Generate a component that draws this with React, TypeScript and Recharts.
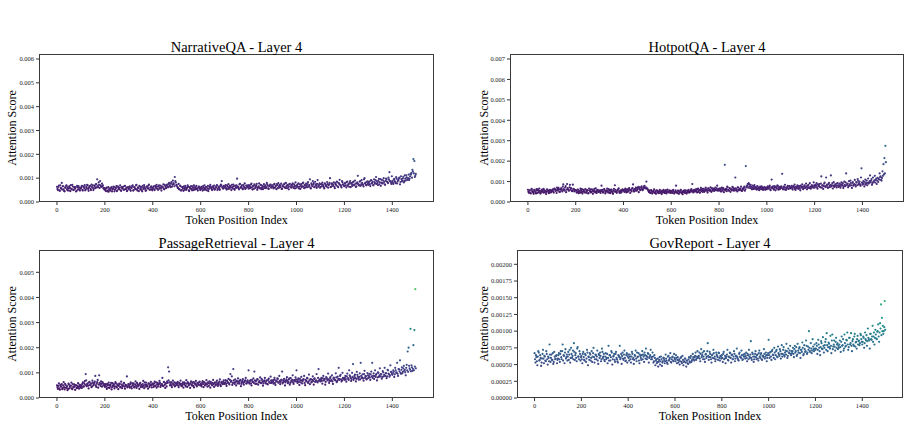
import { Scatter, ScatterChart, XAxis, YAxis } from 'recharts';

// attention scores in units of 1e-5, read every 4 tokens (0, 4, ..., 1496)
// each row below covers 100 tokens
const narrativeQA = [
  64, 50, 69, 47, 58, 80, 66, 53, 45, 61, 70, 49, 57, 67, 46, 55, 72, 51, 62, 56, 44, 68, 52, 60, 48,
  57, 68, 48, 63, 71, 52, 59, 70, 47, 65, 55, 73, 60, 50, 69, 58, 75, 95, 62, 72, 88, 66, 77, 70, 56,
  58, 46, 60, 48, 43, 57, 50, 62, 52, 65, 45, 59, 67, 49, 61, 54, 70, 47, 58, 64, 51, 68, 55, 46, 63,
  55, 66, 47, 60, 70, 50, 62, 54, 72, 48, 58, 68, 52, 63, 45, 60, 71, 56, 49, 66, 58, 73, 51, 61, 53,
  57, 66, 50, 63, 72, 54, 65, 56, 69, 48, 61, 74, 53, 67, 58, 73, 62, 80, 70, 78, 64, 90, 75, 105, 82,
  72, 60, 76, 53, 66, 50, 62, 47, 58, 68, 51, 61, 64, 46, 56, 67, 49, 59, 70, 52, 63, 55, 48, 65, 57,
  54, 64, 48, 60, 70, 52, 63, 57, 46, 66, 72, 58, 50, 62, 69, 53, 60, 71, 55, 65, 51, 73, 88, 59, 68,
  60, 71, 52, 64, 75, 56, 67, 50, 63, 73, 55, 69, 59, 98, 65, 53, 76, 61, 70, 54, 66, 78, 58, 68, 62,
  56, 70, 62, 77, 52, 66, 74, 59, 68, 51, 63, 78, 57, 71, 61, 54, 75, 65, 58, 80, 69, 55, 67, 73, 62,
  70, 57, 76, 63, 54, 71, 79, 60, 68, 77, 56, 66, 74, 61, 80, 58, 69, 53, 76, 64, 72, 78, 59, 67, 82,
  60, 73, 78, 64, 55, 75, 66, 81, 58, 70, 77, 62, 83, 67, 95, 57, 72, 88, 79, 65, 74, 59, 92, 69, 78,
  62, 75, 81, 67, 57, 76, 70, 84, 60, 73, 100, 64, 78, 68, 82, 58, 74, 86, 66, 79, 93, 71, 61, 83, 72,
  66, 80, 61, 86, 73, 64, 88, 77, 67, 83, 70, 90, 63, 78, 110, 72, 85, 68, 92, 75, 65, 100, 81, 70, 87,
  72, 86, 67, 92, 80, 70, 95, 78, 105, 88, 71, 97, 82, 68, 93, 79, 100, 74, 89, 96, 83, 102, 125, 87, 76,
  88, 76, 97, 84, 104, 78, 92, 100, 74, 108, 87, 99, 82, 112, 90, 103, 94, 115, 98, 118, 122, 135, 180, 172, 110,
];
// readings in between, at tokens 2, 6, ..., 1498
const narrativeQAMid = [
  55, 63, 49, 70, 57, 52, 66, 46, 60, 68, 54, 62, 48, 59, 71, 53, 65, 50, 58, 63, 47, 61, 67, 52, 59,
  62, 51, 66, 58, 49, 64, 72, 55, 61, 68, 50, 63, 70, 57, 66, 74, 61, 68, 82, 59, 70, 63, 65, 58, 52,
  50, 57, 45, 62, 53, 48, 59, 44, 56, 63, 51, 58, 46, 66, 55, 60, 49, 63, 57, 52, 67, 54, 60, 48, 58,
  62, 51, 59, 67, 48, 63, 56, 70, 53, 61, 46, 65, 58, 50, 68, 55, 62, 47, 64, 57, 69, 52, 60, 66, 49,
  61, 53, 68, 58, 64, 51, 70, 60, 57, 66, 63, 55, 72, 60, 69, 65, 76, 68, 62, 84, 72, 79, 66, 88, 70,
  65, 58, 53, 69, 48, 63, 56, 66, 51, 60, 57, 70, 49, 62, 58, 54, 66, 50, 61, 57, 68, 53, 60, 64, 50,
  61, 56, 67, 51, 58, 63, 49, 68, 55, 60, 64, 53, 66, 57, 52, 61, 68, 50, 63, 58, 67, 70, 62, 56, 65,
  66, 58, 70, 55, 62, 68, 60, 72, 57, 66, 51, 64, 70, 62, 58, 74, 60, 65, 57, 72, 61, 55, 69, 63, 71,
  64, 58, 73, 60, 67, 55, 70, 62, 76, 58, 66, 60, 72, 54, 68, 64, 59, 70, 62, 74, 57, 66, 72, 60, 68,
  62, 73, 60, 68, 75, 58, 66, 72, 63, 55, 70, 64, 77, 59, 67, 72, 62, 75, 66, 60, 70, 63, 74, 57, 68,
  70, 64, 57, 74, 68, 62, 79, 65, 72, 61, 69, 75, 64, 71, 60, 78, 66, 73, 62, 85, 68, 76, 64, 71, 60,
  74, 66, 72, 61, 78, 68, 64, 75, 71, 80, 62, 76, 69, 73, 64, 79, 70, 84, 62, 77, 72, 67, 88, 74, 68,
  78, 70, 84, 68, 76, 81, 62, 79, 73, 86, 71, 77, 66, 82, 75, 69, 88, 74, 80, 71, 95, 78, 72, 84, 76,
  82, 75, 90, 78, 86, 72, 83, 92, 76, 80, 88, 74, 96, 81, 78, 90, 84, 72, 98, 86, 79, 94, 88, 82, 108,
  82, 94, 88, 79, 98, 86, 92, 102, 84, 96, 90, 106, 88, 98, 112, 94, 100, 92, 108, 115, 102, 128, 120, 105, 118,
];

const hotpotQA = [
  60, 45, 55, 42, 64, 50, 40, 58, 48, 63, 44, 56, 66, 41, 53, 61, 46, 57, 49, 39, 62, 54, 43, 59, 47,
  55, 62, 46, 66, 54, 44, 63, 69, 49, 60, 67, 52, 86, 58, 71, 48, 88, 62, 55, 84, 68, 53, 85, 64, 57,
  58, 46, 61, 43, 53, 65, 48, 41, 59, 50, 63, 45, 56, 42, 66, 52, 47, 62, 40, 57, 51, 67, 44, 60, 49,
  56, 44, 80, 60, 48, 63, 42, 54, 66, 46, 58, 43, 61, 50, 40, 64, 82, 52, 45, 59, 67, 44, 57, 49, 62,
  58, 49, 65, 47, 62, 53, 68, 44, 57, 66, 86, 51, 63, 71, 55, 69, 48, 72, 61, 76, 58, 70, 79, 67, 100,
  66, 55, 48, 44, 58, 41, 50, 62, 46, 40, 56, 48, 43, 60, 52, 39, 47, 59, 45, 53, 42, 61, 49, 57, 44,
  54, 44, 59, 41, 49, 80, 46, 56, 40, 48, 60, 43, 38, 53, 45, 57, 41, 50, 59, 46, 55, 63, 88, 47, 60,
  52, 63, 47, 66, 56, 45, 69, 58, 49, 64, 53, 70, 59, 46, 67, 55, 72, 50, 62, 65, 54, 71, 58, 80, 61,
  55, 67, 51, 70, 60, 48, 182, 63, 53, 72, 57, 68, 50, 62, 74, 56, 66, 120, 59, 52, 71, 58, 64, 75, 54,
  60, 71, 55, 176, 78, 88, 92, 76, 84, 66, 80, 64, 83, 70, 61, 78, 67, 58, 75, 63, 72, 59, 71, 62, 69,
  63, 76, 67, 80, 58, 110, 72, 64, 78, 57, 71, 82, 60, 74, 66, 77, 138, 62, 73, 84, 59, 70, 79, 65, 75,
  66, 79, 61, 76, 85, 59, 72, 81, 64, 78, 57, 73, 86, 63, 77, 69, 90, 62, 80, 70, 92, 65, 83, 74, 96,
  70, 84, 92, 65, 79, 88, 72, 125, 81, 64, 90, 76, 120, 85, 69, 94, 73, 130, 82, 66, 97, 78, 87, 71, 93,
  74, 90, 70, 96, 83, 68, 100, 78, 140, 88, 72, 102, 80, 93, 69, 98, 85, 108, 76, 95, 112, 86, 100, 79, 165,
  85, 102, 76, 110, 92, 82, 115, 95, 130, 104, 84, 120, 98, 128, 108, 88, 118, 112, 140, 125, 105, 150, 185, 215, 275,
];
const hotpotQAMid = [
  50, 57, 44, 61, 53, 47, 59, 51, 42, 56, 62, 48, 54, 45, 58, 52, 64, 47, 55, 50, 60, 46, 53, 58, 49,
  58, 52, 64, 60, 57, 70, 55, 62, 50, 66, 59, 75, 63, 56, 78, 61, 68, 57, 72, 60, 66, 54, 62, 52, 58,
  55, 49, 60, 52, 45, 57, 63, 50, 54, 47, 61, 53, 58, 44, 56, 62, 49, 55, 51, 64, 47, 53, 58, 50, 56,
  50, 58, 53, 46, 61, 55, 49, 57, 52, 63, 47, 54, 59, 45, 56, 51, 60, 48, 55, 62, 50, 53, 46, 58, 55,
  55, 61, 53, 59, 50, 64, 57, 60, 52, 68, 58, 63, 55, 66, 60, 74, 64, 58, 70, 66, 62, 75, 68, 72, 65,
  60, 50, 57, 46, 53, 49, 55, 44, 52, 57, 47, 51, 54, 45, 50, 56, 48, 53, 44, 58, 49, 52, 47, 55, 50,
  48, 55, 51, 45, 57, 50, 43, 54, 49, 56, 46, 52, 48, 57, 50, 44, 55, 47, 53, 49, 58, 51, 56, 54, 52,
  57, 54, 62, 50, 60, 58, 53, 64, 55, 50, 59, 62, 54, 65, 57, 61, 53, 68, 56, 58, 63, 60, 67, 55, 64,
  62, 58, 65, 55, 68, 61, 57, 64, 75, 60, 55, 66, 62, 58, 70, 63, 56, 67, 61, 72, 58, 65, 60, 55, 66,
  66, 75, 62, 72, 80, 70, 86, 68, 74, 62, 70, 76, 65, 73, 68, 62, 72, 66, 70, 76, 64, 68, 73, 60, 71,
  70, 66, 74, 62, 72, 68, 76, 60, 70, 74, 65, 78, 68, 63, 72, 70, 66, 75, 62, 71, 68, 74, 64, 78, 70,
  71, 68, 76, 70, 64, 74, 68, 78, 72, 66, 80, 70, 74, 67, 82, 72, 76, 70, 84, 68, 75, 72, 78, 70, 82,
  76, 80, 72, 86, 78, 74, 90, 70, 82, 78, 95, 74, 80, 72, 88, 78, 84, 76, 92, 80, 74, 86, 78, 90, 80,
  82, 78, 86, 80, 92, 76, 84, 96, 82, 90, 78, 86, 105, 82, 94, 80, 88, 84, 98, 82, 104, 92, 86, 120, 95,
  92, 88, 98, 86, 105, 94, 90, 102, 96, 112, 92, 100, 106, 95, 115, 104, 98, 110, 122, 108, 118, 128, 135, 140, 195,
];

const passageRetrieval = [
  50, 36, 58, 33, 46, 55, 39, 63, 34, 52, 42, 31, 57, 38, 48, 61, 35, 45, 54, 32, 50, 40, 59, 37, 47,
  51, 40, 62, 45, 67, 95, 47, 58, 38, 64, 54, 43, 69, 50, 60, 88, 44, 63, 41, 90, 56, 66, 45, 59, 52,
  44, 55, 36, 51, 61, 40, 52, 34, 59, 47, 38, 63, 45, 54, 35, 57, 42, 65, 39, 50, 60, 37, 48, 86, 46,
  54, 41, 62, 38, 50, 58, 44, 66, 40, 55, 48, 36, 60, 51, 43, 68, 39, 53, 61, 46, 37, 57, 49, 64, 42,
  57, 44, 65, 49, 41, 60, 53, 68, 44, 55, 80, 47, 62, 40, 58, 66, 122, 105, 50, 63, 43, 69, 54, 46, 60,
  52, 64, 43, 58, 69, 47, 56, 41, 62, 50, 71, 44, 59, 54, 40, 66, 49, 63, 42, 57, 68, 46, 60, 52, 65,
  56, 46, 67, 43, 61, 52, 71, 45, 59, 66, 41, 58, 50, 72, 44, 62, 53, 69, 48, 60, 74, 47, 64, 55, 70,
  58, 71, 48, 64, 76, 54, 95, 68, 52, 115, 61, 74, 50, 66, 78, 57, 69, 47, 63, 75, 53, 68, 80, 58, 70,
  110, 57, 71, 50, 65, 78, 105, 56, 69, 75, 53, 64, 82, 59, 72, 49, 67, 80, 58, 70, 54, 77, 62, 85, 60,
  70, 57, 80, 52, 67, 78, 61, 88, 55, 72, 105, 63, 76, 50, 68, 83, 59, 74, 53, 79, 65, 90, 56, 71, 82,
  110, 60, 78, 52, 70, 84, 58, 74, 88, 51, 68, 80, 60, 93, 55, 75, 64, 86, 53, 78, 67, 95, 62, 115, 72,
  66, 80, 57, 88, 71, 53, 83, 74, 97, 60, 79, 68, 90, 56, 81, 72, 98, 63, 85, 120, 75, 92, 66, 100, 78,
  72, 88, 65, 97, 78, 110, 86, 68, 100, 135, 79, 93, 66, 104, 85, 73, 98, 140, 80, 94, 69, 108, 88, 74, 99,
  80, 96, 72, 105, 140, 88, 76, 110, 92, 70, 102, 84, 118, 95, 77, 107, 86, 120, 99, 79, 112, 97, 85, 130, 104,
  92, 110, 84, 120, 100, 140, 88, 114, 150, 96, 122, 104, 128, 112, 90, 132, 185, 200, 118, 275, 130, 108, 210, 270, 433,
];
const passageRetrievalMid = [
  42, 48, 38, 52, 45, 35, 50, 43, 56, 40, 47, 36, 53, 44, 49, 38, 55, 42, 46, 51, 39, 48, 44, 53, 41,
  48, 56, 46, 58, 52, 70, 55, 49, 62, 51, 58, 46, 60, 54, 65, 50, 57, 72, 53, 60, 48, 56, 63, 50, 55,
  50, 45, 56, 41, 52, 48, 60, 43, 50, 55, 46, 58, 42, 51, 48, 56, 44, 53, 47, 58, 45, 52, 50, 42, 55,
  47, 55, 45, 58, 50, 42, 54, 48, 60, 46, 52, 57, 44, 50, 55, 48, 62, 45, 52, 49, 58, 43, 54, 51, 56,
  52, 58, 48, 62, 54, 46, 56, 60, 50, 55, 49, 64, 52, 58, 46, 60, 70, 62, 55, 50, 58, 53, 62, 48, 56,
  58, 50, 60, 52, 56, 48, 62, 54, 58, 46, 57, 63, 50, 55, 60, 52, 58, 48, 62, 55, 51, 59, 54, 63, 50,
  52, 60, 55, 63, 50, 58, 54, 62, 48, 57, 64, 53, 60, 55, 59, 50, 62, 57, 54, 65, 52, 60, 58, 63, 56,
  62, 56, 68, 60, 58, 72, 64, 86, 60, 70, 56, 64, 68, 58, 66, 62, 72, 56, 68, 60, 64, 70, 58, 66, 62,
  62, 68, 58, 72, 64, 60, 70, 66, 56, 74, 62, 68, 60, 76, 64, 58, 70, 62, 68, 56, 72, 64, 60, 70, 66,
  64, 72, 60, 70, 66, 76, 62, 68, 64, 72, 58, 70, 66, 62, 74, 68, 64, 78, 60, 68, 72, 62, 70, 66, 74,
  66, 72, 64, 76, 62, 70, 68, 74, 60, 72, 66, 78, 64, 70, 74, 62, 72, 68, 76, 64, 70, 66, 80, 68, 74,
  74, 68, 78, 70, 76, 64, 80, 70, 74, 68, 84, 72, 66, 78, 74, 70, 82, 68, 76, 72, 88, 74, 70, 80, 76,
  80, 74, 86, 78, 72, 90, 80, 76, 84, 72, 88, 80, 76, 92, 78, 84, 74, 88, 82, 78, 95, 80, 86, 76, 90,
  88, 82, 94, 86, 80, 98, 88, 84, 96, 82, 100, 90, 86, 94, 84, 102, 92, 88, 98, 86, 110, 94, 90, 104, 96,
  98, 104, 94, 110, 102, 96, 115, 106, 100, 112, 98, 118, 108, 102, 120, 110, 104, 128, 112, 106, 122, 116, 110, 125, 118,
];

const govReport = [
  67, 53, 61, 49, 70, 56, 64, 48, 59, 72, 52, 62, 55, 66, 50, 60, 80, 54, 65, 57, 51, 69, 58, 63, 52,
  59, 67, 54, 70, 58, 80, 64, 52, 73, 61, 56, 69, 65, 53, 75, 60, 71, 82, 57, 67, 55, 76, 62, 70, 56,
  63, 52, 69, 57, 66, 54, 72, 49, 61, 67, 56, 70, 62, 75, 53, 65, 58, 71, 51, 64, 68, 55, 74, 60, 66,
  55, 67, 60, 52, 78, 64, 56, 70, 50, 62, 66, 54, 69, 58, 53, 63, 78, 60, 51, 68, 57, 71, 55, 64, 53,
  65, 56, 62, 53, 69, 58, 51, 64, 71, 55, 61, 67, 52, 63, 57, 70, 65, 54, 64, 74, 58, 67, 53, 62, 72,
  61, 68, 53, 64, 49, 58, 54, 47, 57, 50, 62, 48, 55, 60, 52, 65, 56, 51, 63, 58, 67, 53, 61, 56, 66,
  58, 64, 52, 61, 56, 50, 60, 54, 63, 49, 55, 59, 47, 56, 51, 61, 53, 63, 56, 66, 58, 61, 68, 59, 70,
  61, 68, 55, 73, 64, 58, 70, 54, 66, 62, 82, 57, 69, 61, 53, 65, 72, 59, 55, 68, 63, 57, 67, 56, 62,
  64, 54, 69, 59, 52, 62, 72, 56, 61, 67, 53, 65, 58, 70, 55, 63, 74, 59, 56, 68, 61, 71, 57, 65, 62,
  59, 68, 55, 64, 72, 60, 85, 57, 66, 54, 62, 70, 58, 65, 56, 71, 60, 67, 57, 63, 73, 59, 68, 55, 64,
  87, 60, 69, 57, 72, 64, 75, 58, 70, 62, 77, 65, 73, 59, 79, 66, 76, 62, 71, 81, 60, 74, 67, 78, 64,
  67, 75, 61, 78, 70, 63, 81, 68, 76, 60, 72, 83, 64, 79, 69, 86, 66, 77, 100, 70, 82, 67, 88, 73, 80,
  72, 82, 66, 87, 75, 64, 85, 74, 91, 68, 79, 88, 97, 70, 83, 76, 93, 67, 95, 77, 86, 71, 90, 80, 73,
  75, 86, 69, 92, 79, 71, 95, 77, 87, 98, 72, 90, 80, 97, 70, 88, 78, 96, 83, 74, 93, 85, 79, 96, 88,
  80, 92, 75, 98, 86, 78, 104, 88, 74, 96, 87, 108, 92, 80, 102, 89, 99, 110, 84, 112, 140, 120, 108, 100, 145,
];
const govReportMid = [
  58, 64, 55, 62, 68, 57, 60, 53, 66, 59, 63, 56, 70, 58, 62, 55, 65, 60, 57, 67, 54, 62, 59, 64, 57,
  64, 58, 66, 61, 70, 56, 63, 68, 59, 65, 62, 57, 72, 60, 66, 63, 58, 69, 64, 60, 74, 62, 58, 66, 61,
  58, 66, 61, 56, 64, 59, 68, 62, 57, 65, 60, 54, 67, 61, 58, 64, 62, 56, 66, 60, 63, 58, 69, 62, 57,
  62, 58, 66, 60, 56, 64, 61, 68, 58, 63, 57, 66, 60, 55, 64, 61, 58, 66, 63, 59, 65, 60, 56, 67, 62,
  60, 65, 58, 62, 66, 60, 57, 63, 59, 68, 62, 56, 65, 60, 64, 58, 62, 68, 59, 63, 61, 66, 60, 64, 58,
  58, 62, 55, 60, 56, 52, 59, 54, 61, 55, 58, 53, 60, 57, 55, 59, 53, 62, 56, 60, 54, 58, 62, 55, 60,
  55, 60, 57, 53, 58, 55, 61, 52, 57, 54, 59, 53, 56, 52, 58, 55, 60, 54, 58, 61, 56, 63, 57, 62, 60,
  63, 59, 66, 61, 68, 62, 58, 65, 60, 70, 63, 61, 66, 58, 64, 60, 67, 62, 58, 65, 61, 68, 60, 63, 59,
  60, 66, 58, 63, 60, 65, 57, 62, 68, 60, 64, 58, 62, 66, 59, 63, 61, 57, 66, 62, 60, 64, 58, 62, 66,
  63, 60, 66, 58, 62, 65, 60, 68, 62, 58, 66, 61, 64, 59, 67, 62, 65, 58, 63, 61, 66, 62, 64, 60, 67,
  64, 68, 62, 70, 65, 60, 68, 64, 72, 61, 67, 63, 70, 66, 62, 72, 64, 68, 65, 70, 63, 68, 71, 66, 70,
  70, 66, 73, 68, 76, 65, 71, 74, 67, 72, 69, 75, 66, 73, 70, 78, 68, 72, 75, 69, 74, 71, 77, 70, 74,
  74, 78, 72, 80, 70, 76, 82, 73, 78, 75, 84, 72, 79, 76, 81, 74, 78, 86, 73, 80, 77, 84, 75, 82, 78,
  80, 76, 84, 78, 88, 74, 82, 78, 86, 80, 76, 90, 82, 78, 85, 80, 92, 77, 84, 88, 80, 86, 82, 94, 84,
  84, 90, 82, 88, 94, 85, 90, 86, 96, 88, 92, 84, 98, 90, 95, 88, 100, 92, 98, 104, 94, 100, 96, 106, 102,
];

const TOKEN_STEP = 4;
const MID_OFFSET = 2;
const SCALE = 1e-5;
const xTicks = [0, 200, 400, 600, 800, 1000, 1200, 1400];

const VIRIDIS = ['#440154', '#482475', '#414487', '#355f8d', '#2a788e', '#21918c', '#22a884', '#44bf70', '#7ad151', '#bddf26', '#fde725'];

function hex(c: string) {
  return [1, 3, 5].map((i) => parseInt(c.slice(i, i + 2), 16));
}

function viridis(t: number) {
  const v = Math.max(0, Math.min(1, t)) * (VIRIDIS.length - 1);
  const i = Math.min(Math.floor(v), VIRIDIS.length - 2);
  const f = v - i;
  const a = hex(VIRIDIS[i]);
  const b = hex(VIRIDIS[i + 1]);
  const m = a.map((x, k) => Math.round(x + (b[k] - x) * f));
  return `rgb(${m[0]},${m[1]},${m[2]})`;
}

const panels = [
  {
    title: 'NarrativeQA - Layer 4', values: narrativeQA, mid: narrativeQAMid, yMax: 0.00621, digits: 3, labelX: 12,
    yTicks: [0, 0.001, 0.002, 0.003, 0.004, 0.005, 0.006],
    box: { left: 39, top: 54, right: 434, bottom: 202 },
  },
  {
    title: 'HotpotQA - Layer 4', values: hotpotQA, mid: hotpotQAMid, yMax: 0.007245, digits: 3, labelX: 484,
    yTicks: [0, 0.001, 0.002, 0.003, 0.004, 0.005, 0.006, 0.007],
    box: { left: 510, top: 54, right: 904, bottom: 202 },
  },
  {
    title: 'PassageRetrieval - Layer 4', values: passageRetrieval, mid: passageRetrievalMid, yMax: 0.005887, digits: 3, labelX: 12,
    yTicks: [0, 0.001, 0.002, 0.003, 0.004, 0.005],
    box: { left: 39, top: 250, right: 434, bottom: 398 },
  },
  {
    title: 'GovReport - Layer 4', values: govReport, mid: govReportMid, yMax: 0.002214, digits: 5, labelX: 484,
    yTicks: [0, 0.00025, 0.0005, 0.00075, 0.001, 0.00125, 0.0015, 0.00175, 0.002],
    box: { left: 517, top: 250, right: 903, bottom: 398 },
  },
];

const SERIF = '"Liberation Serif", "Times New Roman", serif';
const YW = 40;
const XH = 20;
const MT = 4;
const MR = 4;

const Dot = (p: any) => <circle cx={p.cx} cy={p.cy} r={1.1} fill={p.payload.c} />;

function Panel({ title, values, mid, yMax, digits, yTicks, box, labelX }: any) {
  const pw = box.right - box.left;
  const ph = box.bottom - box.top;
  const point = (v: number, x: number) => ({ x, y: v * SCALE, c: viridis((v * SCALE) / yMax) });
  const data = [
    ...values.map((v: number, i: number) => point(v, i * TOKEN_STEP)),
    ...mid.map((v: number, i: number) => point(v, i * TOKEN_STEP + MID_OFFSET)),
  ];
  const tick = { fontSize: 6.5, fill: '#222', fontFamily: SERIF };
  const midX = (box.left + box.right) / 2;
  const midY = (box.top + box.bottom) / 2;
  return (
    <>
      <div style={{ position: 'absolute', left: box.left - YW, top: box.top - MT }}>
        <ScatterChart width={YW + pw + MR} height={MT + ph + XH} margin={{ top: MT, right: MR, bottom: 0, left: 0 }}>
          <XAxis
            type="number" dataKey="x" domain={[-75, 1574]} ticks={xTicks} interval={0} height={XH}
            axisLine={false} tickSize={3} tickLine={{ stroke: '#333' }} tick={tick} allowDataOverflow
          />
          <YAxis
            type="number" dataKey="y" domain={[0, yMax]} ticks={yTicks} interval={0} width={YW}
            axisLine={false} tickSize={3} tickLine={{ stroke: '#333' }} tick={tick} allowDataOverflow
            tickFormatter={(v: number) => v.toFixed(digits)}
          />
          <Scatter data={data} shape={Dot} isAnimationActive={false} />
        </ScatterChart>
      </div>
      <div style={{ position: 'absolute', left: box.left, top: box.top, width: pw, height: ph, boxSizing: 'border-box', border: '1.3px solid #3a3a3a', pointerEvents: 'none' }} />
      <div style={{ position: 'absolute', left: midX - 150, width: 300, top: box.top - 15, textAlign: 'center', fontSize: 14.5, lineHeight: '16px', fontFamily: SERIF, color: '#000' }}>
        {title}
      </div>
      <div style={{ position: 'absolute', left: midX - 100, width: 200, top: box.bottom + 11, textAlign: 'center', fontSize: 12, lineHeight: '14px', fontFamily: SERIF, color: '#000' }}>
        Token Position Index
      </div>
      <div style={{ position: 'absolute', left: labelX - 60, top: midY - 7, width: 120, textAlign: 'center', fontSize: 12, lineHeight: '14px', fontFamily: SERIF, color: '#000', transform: 'rotate(-90deg)', transformOrigin: 'center' }}>
        Attention Score
      </div>
    </>
  );
}

export default function App() {
  return (
    <div style={{ position: 'fixed', left: 0, top: 0, width: 912, height: 426, background: '#fff', overflow: 'hidden' }}>
      {panels.map((p) => (
        <Panel key={p.title} {...p} />
      ))}
    </div>
  );
}
